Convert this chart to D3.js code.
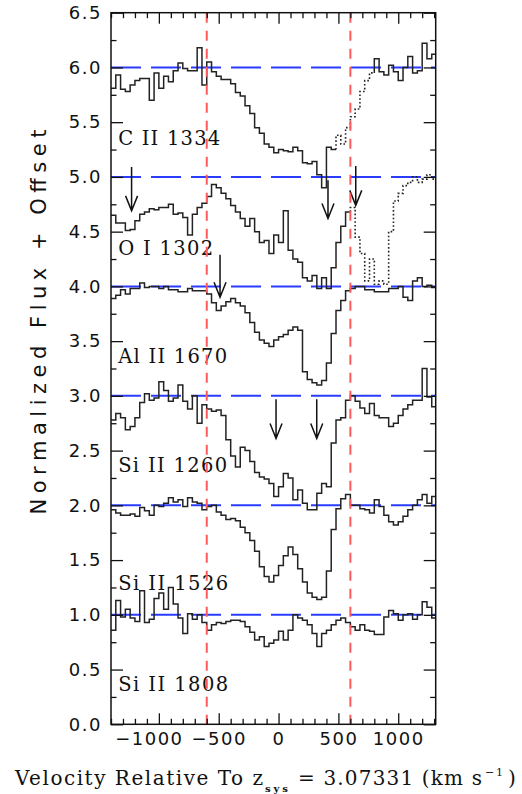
<!DOCTYPE html>
<html>
<head>
<meta charset="utf-8">
<script src="https://cdn.jsdelivr.net/npm/d3@7"></script>
<style>body{margin:0;background:#fff}</style>
</head>
<body>
<script>
// spectra binned in 40 km/s steps starting at -1400 km/s
const velStart = -1400, binWidth = 40

const cII1334 = [5.81,5.93,5.80,5.78,5.84,5.88,5.90,5.90,5.70,5.95,
	5.81,5.92,5.87,5.97,6.04,5.99,5.97,5.97,6.18,5.84,
	6.05,5.96,5.92,5.89,5.89,5.85,5.77,5.74,5.65,5.58,
	5.45,5.40,5.30,5.27,5.22,5.25,5.24,5.23,5.27,5.24,
	5.13,5.12,5.14,5.02,4.90,5.27,5.25,5.38,5.30,5.45,
	5.55,5.62,5.78,5.88,5.95,6.08,5.96,5.93,6.02,5.96,
	5.88,6.00,6.10,5.95,5.97,6.22,6.08,6.12]
const oI1302 = [4.65,4.58,4.58,4.51,4.52,4.60,4.66,4.68,4.71,4.70,
	4.72,4.72,4.75,4.66,4.67,4.63,4.47,4.66,4.72,4.76,
	4.82,4.93,4.90,4.85,4.80,4.74,4.68,4.62,4.55,4.62,
	4.50,4.40,4.42,4.30,4.47,4.40,4.69,4.33,4.25,4.22,
	4.08,4.05,4.10,3.98,4.08,3.98,4.17,4.40,4.55,4.68,
	4.72,4.45,4.30,4.05,4.25,4.02,4.05,4.02,4.50,4.78,
	4.85,4.92,4.95,5.00,4.95,4.98,5.02,4.98]
const alII1670 = [3.89,3.92,3.97,3.93,3.98,3.98,4.03,3.99,4.00,4.00,
	3.98,4.00,3.97,3.97,3.95,3.95,3.98,3.96,3.96,3.96,
	3.93,3.85,3.78,3.82,3.86,3.89,3.85,3.82,3.76,3.67,
	3.58,3.51,3.48,3.45,3.51,3.54,3.56,3.60,3.63,3.60,
	3.22,3.15,3.12,3.10,3.14,3.30,3.57,3.78,3.87,3.96,
	3.98,4.00,4.00,3.97,3.97,3.95,3.95,3.95,3.98,3.98,
	4.00,3.90,3.87,4.05,4.08,4.00,4.01,3.99]
const siII1260 = [2.78,2.84,2.80,2.69,2.72,2.80,2.94,3.02,2.96,2.98,
	3.13,3.05,2.95,2.98,3.10,2.95,2.88,3.00,2.75,2.92,
	2.88,2.86,2.87,2.82,2.60,2.45,2.35,2.53,2.50,2.40,
	2.30,2.26,2.24,2.20,2.08,2.17,2.29,2.25,2.05,2.14,
	2.02,1.96,1.96,2.11,2.20,2.17,2.57,2.78,2.80,2.96,
	3.00,2.95,2.89,2.84,2.93,2.82,2.80,2.80,2.72,2.75,
	2.82,2.88,2.92,2.96,2.96,3.25,2.99,2.90]
const siII1526 = [1.96,1.93,1.91,1.91,1.92,1.90,1.98,1.95,1.91,2.00,
	1.99,2.02,2.07,2.03,2.05,1.99,2.07,2.03,2.02,1.96,
	1.99,2.00,1.94,1.91,1.87,1.88,1.86,1.80,1.75,1.68,
	1.58,1.44,1.35,1.30,1.36,1.45,1.54,1.62,1.55,1.42,
	1.30,1.20,1.16,1.14,1.16,1.40,1.78,1.97,2.06,2.10,
	2.00,2.00,1.97,1.96,1.93,2.05,1.99,1.91,1.85,1.82,
	1.85,1.90,1.96,2.00,2.05,2.10,2.02,2.08]
const siII1808 = [0.86,1.13,0.98,1.05,0.97,0.94,1.22,0.93,0.96,1.15,
	1.20,1.05,1.25,1.10,0.97,0.83,1.01,0.96,1.00,0.93,
	0.86,0.91,0.93,0.92,0.94,0.95,0.95,0.94,0.89,0.84,
	0.77,0.80,0.71,0.74,0.77,0.85,0.77,0.86,1.00,0.97,
	0.95,0.91,0.83,0.71,0.83,0.86,0.91,0.95,0.97,0.93,
	0.89,0.86,0.91,0.86,0.85,0.82,0.82,0.98,1.04,1.01,
	0.95,1.00,1.01,0.96,1.00,1.12,1.07,0.97]

const spectra = [cII1334, oI1302, alII1670, siII1260, siII1526, siII1808]
const lineNames = ['C II 1334', 'O I 1302', 'Al II 1670', 'Si II 1260', 'Si II 1526', 'Si II 1808']
const continuum = [6, 5, 4, 3, 2, 1]
const labelFlux = [5.29, 4.29, 3.30, 2.30, 1.23, 0.30]
const labelWidth = [102, 95, 109, 109, 110, 110]
const dottedRanges = [[[470, 800]], [[600, 1320]], [], [], [], []]

const arrowV = [-1228, 413, 645, -489, -21, 319]
const arrowTop = [5.09, 4.97, 5.10, 4.29, 2.97, 2.97]
const arrowTip = [4.69, 4.62, 4.74, 3.90, 2.61, 2.61]

const markerV = [-600, 600]
const xTicks = [-1000, -500, 0, 500, 1000]
const yTicks = [0, 0.5, 1, 1.5, 2, 2.5, 3, 3.5, 4, 4.5, 5, 5.5, 6, 6.5]

const margin = ({top: 12.7, left: 111})
const width = 324.7, height = 711.6

let svg = d3.select('body').append('svg')
	.attr('width', 522)
	.attr('height', 794)

let g = svg.append('g')
	.attr('transform', `translate(${margin.left},${margin.top})`)

let xScale = d3.scaleLinear()
	.domain([-1400, 1313])
	.range([0, width])

let yScale = d3.scaleLinear()
	.domain([0, 6.5])
	.range([height, 0])

svg.append('clipPath').attr('id', 'plot')
	.append('rect').attr('width', width).attr('height', height)

// continuum levels
g.append('g')
	.selectAll('line')
	.data(continuum)
	.join('line')
	.attr('x1', 0).attr('x2', width)
	.attr('y1', d => yScale(d)).attr('y2', d => yScale(d))
	.attr('stroke', '#2a3cff')
	.attr('stroke-width', 2)
	.attr('stroke-dasharray', '30,10')

function segments(vals, dotted) {
	const segs = []
	vals.forEach((f, i) => {
		const v0 = velStart + i * binWidth
		const mid = v0 + binWidth / 2
		const isDot = dotted.some(r => mid >= r[0] && mid < r[1])
		let cur = segs[segs.length - 1]
		if (!cur || cur.dotted !== isDot) {
			const start = cur ? [[v0, vals[i - 1]]] : []
			cur = {dotted: isDot, pts: start}
			segs.push(cur)
		}
		cur.pts.push([v0, f])
		cur.end = [v0 + binWidth, f]
	})
	segs.forEach(s => s.pts.push(s.end))
	return segs
}

const step = d3.line()
	.x(d => xScale(d[0]))
	.y(d => yScale(d[1]))
	.curve(d3.curveStepAfter)

const specG = g.append('g').attr('clip-path', 'url(#plot)')
spectra.forEach((vals, k) => {
	specG.selectAll(null)
		.data(segments(vals, dottedRanges[k]))
		.join('path')
		.attr('d', d => step(d.pts))
		.attr('fill', 'none')
		.attr('stroke', '#222')
		.attr('stroke-width', d => d.dotted ? 1.6 : 1.5)
		.attr('stroke-dasharray', d => d.dotted ? '1.6,2.2' : null)
})

// arrows
const arrowG = g.append('g')
	.attr('stroke', '#111')
	.attr('stroke-width', 1.5)
	.attr('fill', 'none')
arrowV.forEach((v, i) => {
	const ax = xScale(v), y0 = yScale(arrowTop[i]), y1 = yScale(arrowTip[i])
	arrowG.append('path')
		.attr('d', `M${ax},${y0}V${y1}M${ax - 6},${y1 - 15}L${ax},${y1}L${ax + 6},${y1 - 15}`)
})

// line labels
g.append('g')
	.selectAll('text')
	.data(lineNames)
	.join('text')
	.attr('x', xScale(-1340))
	.attr('y', (d, i) => yScale(labelFlux[i]))
	.attr('textLength', (d, i) => labelWidth[i])
	.attr('lengthAdjust', 'spacing')
	.attr('font-family', 'DejaVu Serif')
	.attr('font-size', 19.5)
	.attr('fill', '#111')
	.text(d => d)

// velocity markers
g.append('g')
	.selectAll('line')
	.data(markerV)
	.join('line')
	.attr('x1', d => xScale(d)).attr('x2', d => xScale(d))
	.attr('y1', 0).attr('y2', height)
	.attr('stroke', '#ff5a5a')
	.attr('stroke-width', 2)
	.attr('stroke-dasharray', '10,8')

// axes
const xMinor = d3.range(-1400, 1301, 100).filter(v => v % 500 !== 0)
const yMinor = d3.range(0.25, 6.5, 0.5)

function styleAxis(sel) {
	sel.call(a => a.select('.domain').remove())
	sel.selectAll('.tick line').attr('stroke', '#111').attr('stroke-width', 1.3)
	sel.selectAll('text')
		.attr('font-family', 'DejaVu Sans')
		.attr('font-size', 18)
		.attr('letter-spacing', 1.5)
		.attr('fill', '#111')
}

g.append('g').attr('transform', `translate(0,${height})`)
	.call(d3.axisBottom(xScale).tickValues(xTicks).tickSize(-11).tickPadding(8).tickFormat(d3.format('d')))
	.call(styleAxis)
	.selectAll('text')
	.attr('dx', d => d === -1000 ? -10 : 0)
g.append('g').attr('transform', `translate(0,${height})`)
	.call(d3.axisBottom(xScale).tickValues(xMinor).tickSize(-5.5).tickFormat(''))
	.call(styleAxis)
g.append('g')
	.call(d3.axisTop(xScale).tickValues(xTicks).tickSize(-11).tickFormat(''))
	.call(styleAxis)
g.append('g')
	.call(d3.axisTop(xScale).tickValues(xMinor).tickSize(-5.5).tickFormat(''))
	.call(styleAxis)
g.append('g')
	.call(d3.axisLeft(yScale).tickValues(yTicks).tickSize(-12).tickPadding(9).tickFormat(d3.format('.1f')))
	.call(styleAxis)
g.append('g')
	.call(d3.axisLeft(yScale).tickValues(yMinor).tickSize(-5.5).tickFormat(''))
	.call(styleAxis)
g.append('g').attr('transform', `translate(${width},0)`)
	.call(d3.axisRight(yScale).tickValues(yTicks).tickSize(-12).tickFormat(''))
	.call(styleAxis)
g.append('g').attr('transform', `translate(${width},0)`)
	.call(d3.axisRight(yScale).tickValues(yMinor).tickSize(-5.5).tickFormat(''))
	.call(styleAxis)

g.append('rect')
	.attr('width', width).attr('height', height)
	.attr('fill', 'none')
	.attr('stroke', '#111')
	.attr('stroke-width', 1.5)

// axis titles
svg.append('text')
	.attr('transform', 'translate(46,322) rotate(-90)')
	.attr('text-anchor', 'middle')
	.attr('textLength', 385)
	.attr('lengthAdjust', 'spacing')
	.attr('font-family', 'DejaVu Sans')
	.attr('font-size', 21)
	.attr('fill', '#111')
	.text('Normalized Flux + Offset')

const xTitle = [
	{t: 'Velocity Relative To z', x: 15, y: 785, w: 248, size: 20},
	{t: 'sys', x: 265, y: 792, w: 23, size: 10, bold: true},
	{t: '= 3.07331 (km s', x: 298, y: 785, w: 184, size: 20},
	{t: '\u22121', x: 485, y: 776, w: 18, size: 11},
	{t: ')', x: 508, y: 785, w: 9, size: 20}
]
svg.append('g')
	.selectAll('text')
	.data(xTitle)
	.join('text')
	.attr('x', d => d.x)
	.attr('y', d => d.y)
	.attr('textLength', d => d.w)
	.attr('lengthAdjust', 'spacing')
	.attr('font-family', 'DejaVu Serif')
	.attr('font-size', d => d.size)
	.attr('font-weight', d => d.bold ? 'bold' : null)
	.attr('fill', '#111')
	.text(d => d.t)
</script>
</body>
</html>
